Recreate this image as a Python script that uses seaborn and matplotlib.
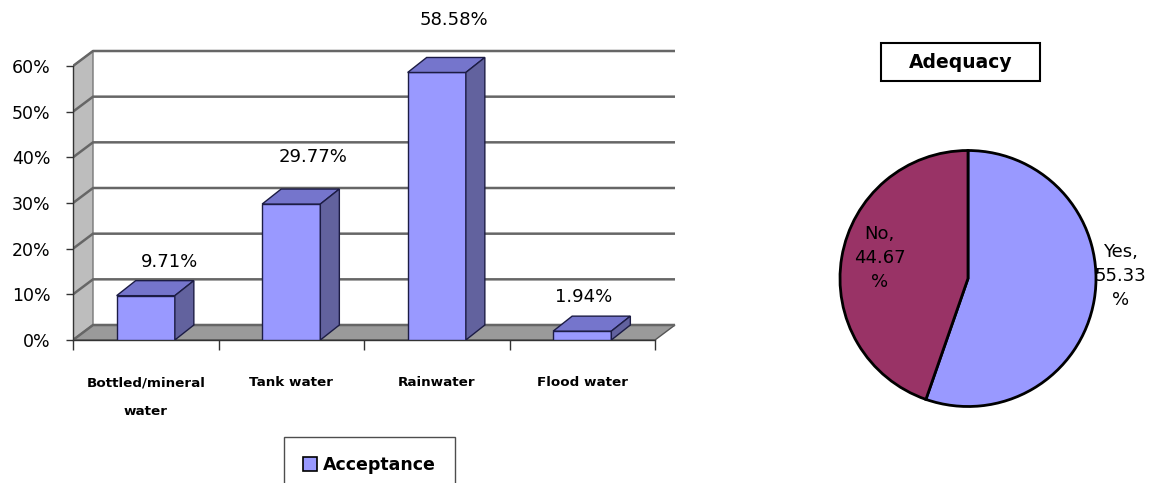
import matplotlib
matplotlib.use("Agg")
import matplotlib.pyplot as plt
from matplotlib.patches import Polygon, Rectangle, Patch
import seaborn as sns
import pandas as pd

# data
categories = ["Bottled/mineral\nwater", "Tank water", "Rainwater", "Flood water"]
acceptance = [9.71, 29.77, 58.58, 1.94]
yticks = [0, 10, 20, 30, 40, 50, 60]

adequacy_labels = ["Yes", "No"]
adequacy_values = [55.33, 44.67]

# layout tweaks for the value labels (points)
label_nudge = [(10, 13.5), (9, 23), (5.5, 27), (-6, 13.7)]
pie_label_pos = [(1.19, 0.02), (-0.69, 0.16)]
pie_label_z = [0, 3]

sns.set_style("white")
plt.rcParams["font.family"] = ["DejaVu Sans"]
plt.rcParams["text.color"] = "black"
plt.rcParams["xtick.color"] = "black"
plt.rcParams["ytick.color"] = "black"

W, H = 1149, 483
fig = plt.figure(figsize=(W / 100, H / 100), dpi=100)


def fx(px):
    return px / W


def fy(py):
    return 1 - py / H


# bar chart, pseudo 3D like the Excel original
cat_px = (655 - 73) / 4
y_px = (340 - 66) / 60
dx = 20 / cat_px     # depth of the walls
bdx = 19 / cat_px    # depth of the bars
dy = 15 / y_px
xmax = 3.5 + dx + 0.01
ymax = 64
right_px = 655 + (xmax - 3.5) * cat_px
top_py = 340 - ymax * y_px
ax = fig.add_axes([fx(73), fy(340), (right_px - 73) / W, (340 - top_py) / H])

df = pd.DataFrame({"source": categories, "acceptance": acceptance})
sns.barplot(data=df, x="source", y="acceptance", color="#9999FF", saturation=1,
            width=0.4, edgecolor="#1c1c44", linewidth=1, ax=ax, zorder=4)
bars = list(ax.patches)

# side wall and floor
ax.add_patch(Polygon([(-0.5, 0), (-0.5, 60), (-0.5 + dx, 60 + dy), (-0.5 + dx, dy)],
                     closed=True, facecolor="#BDBDBD", edgecolor="#777777", lw=1, zorder=0))
ax.add_patch(Polygon([(-0.5, 0), (3.5, 0), (3.5 + dx, dy), (-0.5 + dx, dy)],
                     closed=True, facecolor="#9A9A9A", edgecolor="#555555", lw=1, zorder=1))
for v in yticks:
    ax.plot([-0.5, -0.5 + dx, 3.5 + dx], [v, v + dy, v + dy],
            color="#666666", lw=1.8, zorder=1.5, solid_capstyle="butt")

# tops and sides of the bars
for p in bars:
    x0, w, h = p.get_x(), p.get_width(), p.get_height()
    ax.add_patch(Polygon([(x0, h), (x0 + w, h), (x0 + w + bdx, h + dy), (x0 + bdx, h + dy)],
                         closed=True, facecolor="#7575CC", edgecolor="#1c1c44", lw=1, zorder=4))
    ax.add_patch(Polygon([(x0 + w, 0), (x0 + w, h), (x0 + w + bdx, h + dy), (x0 + w + bdx, dy)],
                         closed=True, facecolor="#62629E", edgecolor="#1c1c44", lw=1, zorder=4))

for i, v in enumerate(acceptance):
    ax.annotate(f"{v:.2f}%", xy=(i + bdx / 2, v + dy), xytext=label_nudge[i],
                textcoords="offset points", ha="center", va="center",
                fontsize=13, annotation_clip=False)

ax.set_xlim(-0.5, xmax)
ax.set_ylim(0, ymax)
ax.set_xlabel("")
ax.set_ylabel("")
for s in ["top", "right"]:
    ax.spines[s].set_visible(False)
ax.spines["left"].set_bounds(0, 60)
ax.spines["bottom"].set_bounds(-0.5, 3.5)
for s in ["left", "bottom"]:
    ax.spines[s].set_color("#333333")
    ax.spines[s].set_linewidth(1)

ax.set_yticks(yticks, labels=[f"{v}%" for v in yticks])
ax.tick_params(axis="y", left=True, direction="out", length=5, width=1,
               color="#333333", pad=11, labelsize=12.5)
ax.set_xticks([-0.5, 0.5, 1.5, 2.5, 3.5], labels=[""] * 5)
ax.set_xticks(range(len(categories)), labels=categories, minor=True)
ax.tick_params(axis="x", which="major", bottom=True, direction="out", length=7,
               width=1, color="#333333")
ax.tick_params(axis="x", which="minor", bottom=True, length=0, pad=26, labelsize=9.7)
for t in ax.get_xticklabels(minor=True):
    t.set_fontweight("bold")
    t.set_linespacing(2.6)
    t.set_verticalalignment("top")

fig.legend(handles=[Patch(facecolor="#9999FF", edgecolor="black", lw=1.2)],
           labels=["Acceptance"], loc="upper left",
           bbox_to_anchor=(fx(284), fy(437)), borderaxespad=0,
           frameon=True, fancybox=False, edgecolor="#222222",
           prop={"weight": "bold", "size": 12.5}, handlelength=0.8,
           handleheight=0.8, handletextpad=0.35, borderpad=1.1)

# pie chart
R = 128
half = 1.3 * R
axp = fig.add_axes([fx(968 - half), fy(278.5 + half), 2 * half / W, 2 * half / H])
axp.pie(adequacy_values, colors=["#9999FF", "#993366"], startangle=90,
        counterclock=False, wedgeprops=dict(edgecolor="black", linewidth=2))
axp.set_xlim(-1.3, 1.3)
axp.set_ylim(-1.3, 1.3)
for (lx, ly), lab, val, z in zip(pie_label_pos, adequacy_labels, adequacy_values, pie_label_z):
    axp.text(lx, ly, f"{lab},\n{val:.2f}\n%", ha="center", va="center",
             fontsize=13, linespacing=1.45, zorder=z)

fig.add_artist(Rectangle((fx(881), fy(81)), 159 / W, 38 / H, transform=fig.transFigure,
                         facecolor="white", edgecolor="black", lw=1.5))
fig.text(fx(960.5), fy(63), "Adequacy", ha="center", va="center",
         fontsize=13.5, fontweight="bold")

fig.savefig("out.png", dpi=100)
